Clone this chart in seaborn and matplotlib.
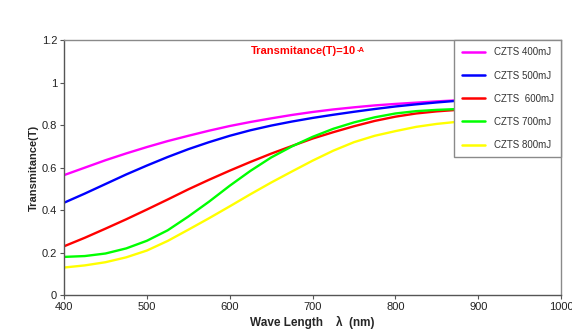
import numpy as np
import pandas as pd
import matplotlib
matplotlib.use("Agg")
import matplotlib.pyplot as plt
import seaborn as sns

wavelength = [400, 425, 450, 475, 500, 525, 550, 575, 600, 625, 650, 675, 700, 725, 750, 775, 800, 825, 850, 875]
t_400 = [0.565, 0.60, 0.635, 0.667, 0.697, 0.725, 0.75, 0.774, 0.796, 0.815, 0.832, 0.848, 0.862, 0.874, 0.884, 0.893, 0.90, 0.906, 0.912, 0.917]
t_500 = [0.435, 0.478, 0.523, 0.568, 0.61, 0.65, 0.687, 0.72, 0.75, 0.776, 0.798, 0.817, 0.834, 0.849, 0.863, 0.876, 0.888, 0.898, 0.907, 0.915]
t_600 = [0.23, 0.27, 0.313, 0.357, 0.403, 0.45, 0.498, 0.543, 0.586, 0.627, 0.666, 0.702, 0.737, 0.767, 0.795, 0.82, 0.84, 0.855, 0.865, 0.872]
t_700 = [0.18, 0.184, 0.196, 0.22, 0.256, 0.305, 0.37, 0.44, 0.515, 0.585, 0.648, 0.70, 0.745, 0.783, 0.813, 0.837, 0.855, 0.866, 0.872, 0.876]
t_800 = [0.13, 0.14, 0.155, 0.178, 0.21, 0.255, 0.308, 0.362, 0.418, 0.475, 0.53, 0.582, 0.633, 0.68, 0.72, 0.75, 0.772, 0.792, 0.806, 0.816]
labels = ["CZTS 400mJ", "CZTS 500mJ", "CZTS  600mJ", "CZTS 700mJ", "CZTS 800mJ"]
colors = ["#FF00FF", "#0000FF", "#FF0000", "#00FF00", "#FFFF00"]
x_ticks = [400, 500, 600, 700, 800, 900, 1000]
y_ticks = [0, 0.2, 0.4, 0.6, 0.8, 1.0, 1.2]
y_tick_labels = ["0", "0.2", "0.4", "0.6", "0.8", "1", "1.2"]

series = [t_400, t_500, t_600, t_700, t_800]
df = pd.concat([pd.DataFrame({"wl": wavelength, "T": s, "sample": lab}) for s, lab in zip(series, labels)],
               ignore_index=True)

sns.set_theme(style="white")
plt.rcParams['font.family'] = ['Liberation Sans', 'DejaVu Sans']

fig = plt.figure(figsize=(5.72, 3.32), dpi=100)
ax = fig.add_axes([0.112, 0.111, 0.869, 0.768])
sns.lineplot(data=df, x="wl", y="T", hue="sample", palette=dict(zip(labels, colors)),
             linewidth=1.7, ax=ax, legend=True)

ax.set_xlim(400, 1000)
ax.set_ylim(0, 1.2)
ax.set_xticks(x_ticks)
ax.set_xticklabels([str(v) for v in x_ticks], fontsize=8, color="#222222")
ax.set_yticks(y_ticks)
ax.set_yticklabels(y_tick_labels, fontsize=8, color="#222222")
ax.tick_params(axis="both", direction="out", length=3, width=0.8, color="#555555", bottom=True, left=True, pad=2)
for sp in ax.spines.values():
    sp.set_color("#8a8a8a")
    sp.set_linewidth(1.0)
ax.spines["left"].set_color("#555555")
ax.spines["bottom"].set_color("#555555")

ax.set_xlabel("Wave Length    λ  (nm)", fontsize=8.5, fontweight="bold", labelpad=3)
ax.set_ylabel("Transmitance(T)", fontsize=8, fontweight="bold", labelpad=2)

title = ax.text(0.376, 0.958, "Transmitance(T)=10", transform=ax.transAxes,
                color="#FF0000", fontsize=8, fontweight="bold", ha="left", va="center")
fig.canvas.draw()
bb = title.get_window_extent(renderer=fig.canvas.get_renderer())
fig.text(bb.x1 / fig.bbox.width + 0.001, (bb.y1 - 1) / fig.bbox.height, "-A",
         color="#FF0000", fontsize=5.5, fontweight="bold", ha="left", va="top")

leg = ax.legend(loc="upper right", bbox_to_anchor=(1.0, 1.0), borderaxespad=0.0,
                fontsize=7, frameon=True, fancybox=False, framealpha=1.0, labelspacing=1.35,
                handlelength=2.4, handletextpad=0.9, borderpad=0.75, title=None)
leg.get_frame().set_edgecolor("#8a8a8a")
leg.get_frame().set_linewidth(1.0)
for t in leg.get_texts():
    t.set_color("#333333")
for h in leg.get_lines():
    h.set_linewidth(1.8)

fig.savefig("out.png", dpi=100)
